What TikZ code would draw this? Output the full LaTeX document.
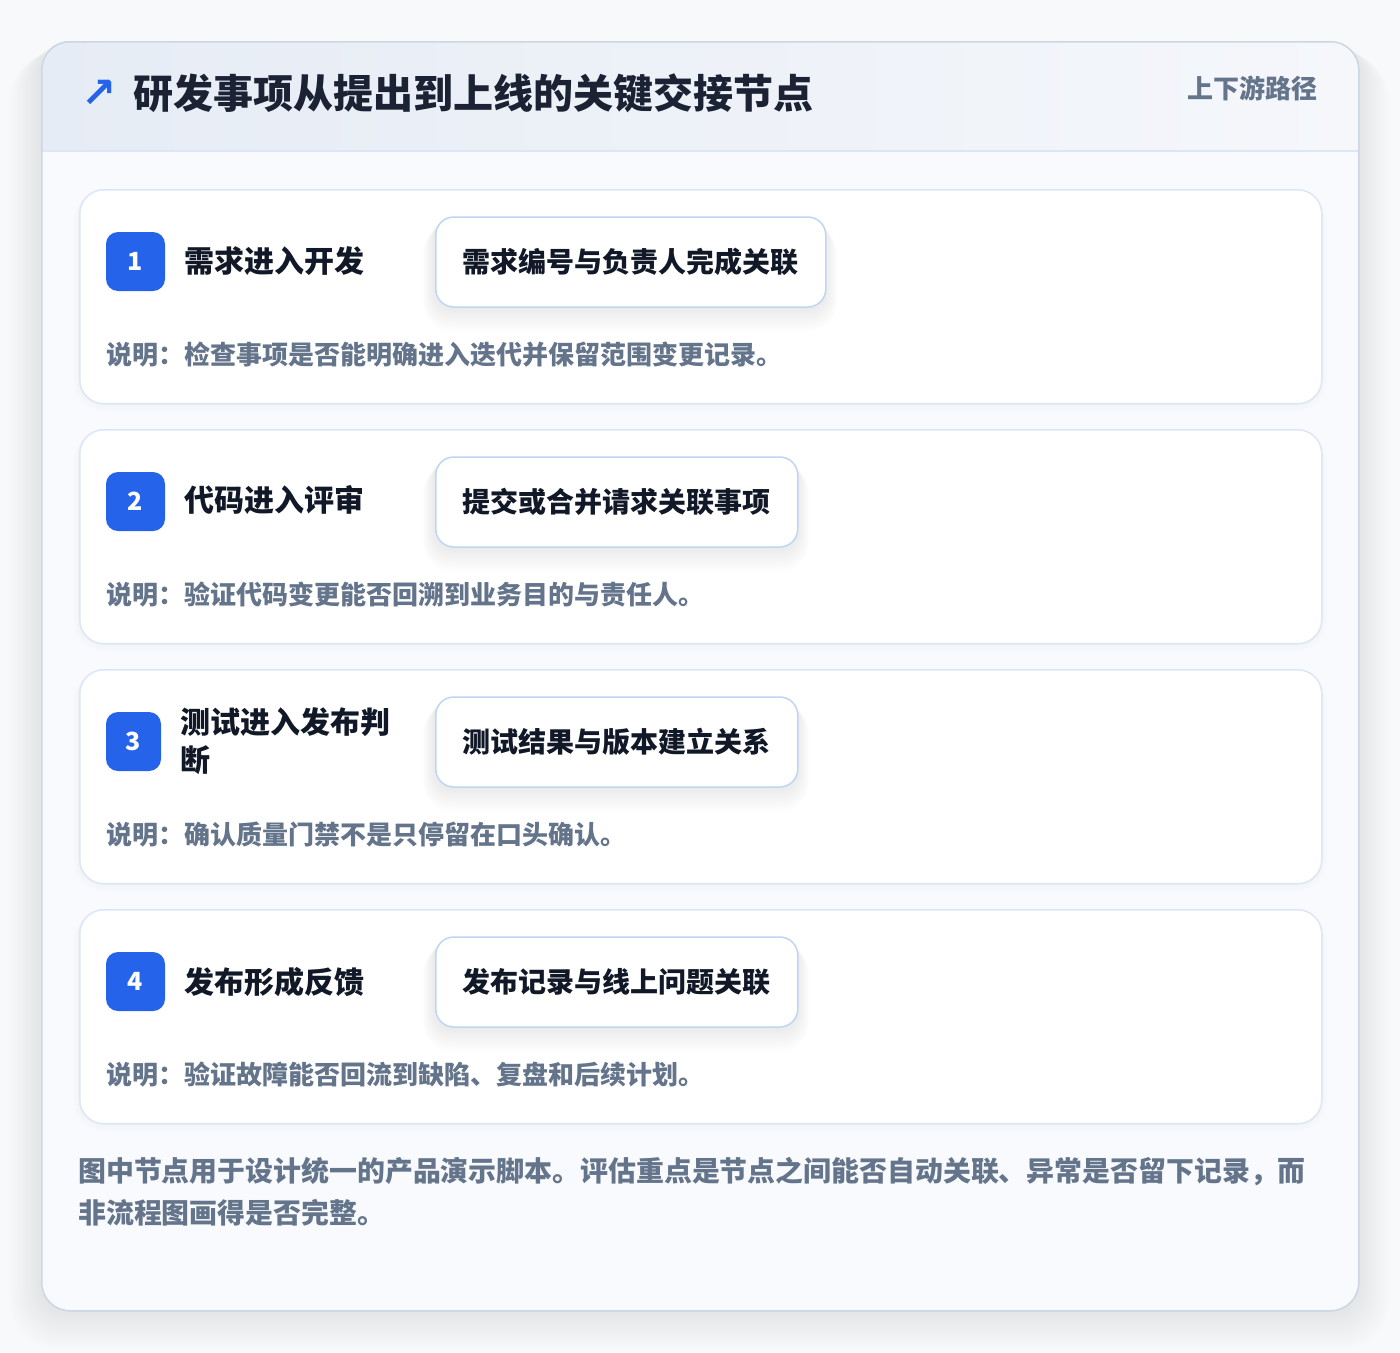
\documentclass[tikz,border=0pt]{standalone}
\usepackage{fontspec}
\newfontfamily\cjk{Noto Sans CJK SC}
\newfontfamily\symf{DejaVu Sans}
\definecolor{pagebg}{HTML}{F8F9FB}
\definecolor{bodybg}{HTML}{F8FAFD}
\definecolor{hdrL}{HTML}{E6ECF5}
\definecolor{hdrR}{HTML}{F5F7FB}
\definecolor{outerborder}{HTML}{CDD6E3}
\definecolor{hline}{HTML}{DCE6F4}
\definecolor{cardborder}{HTML}{DBE7F7}
\definecolor{boxborder}{HTML}{BFD6F3}
\definecolor{accent}{HTML}{2563EB}
\definecolor{titlec}{HTML}{1A2233}
\definecolor{darkc}{HTML}{111827}
\definecolor{grayc}{HTML}{64748B}
\tikzset{
  stepcard/.style={draw=cardborder, line width=1.5pt, fill=white, rounded corners=24pt},
  badge/.style={fill=accent, rounded corners=12pt, minimum height=59pt, text=white, inner sep=0pt,
    font=\cjk\bfseries\fontsize{25}{25}\selectfont},
  steplabel/.style={anchor=west, inner sep=0pt, text=darkc, align=left,
    font=\cjk\bfseries\fontsize{30}{38}\selectfont},
  linkbox/.style={draw=boxborder, line width=1.5pt, fill=white, rounded corners=18pt,
    minimum height=90pt, anchor=west, text=darkc, inner sep=0pt,
    font=\cjk\bfseries\fontsize{28}{34}\selectfont},
  notetext/.style={anchor=west, inner sep=0pt, text=grayc, font=\cjk\bfseries\fontsize{26}{30}\selectfont},
  foottext/.style={anchor=west, inner sep=0pt, text=grayc, font=\cjk\bfseries\fontsize{27.9}{34}\selectfont},
}
\usetikzlibrary{calc}
\begin{document}
\begin{tikzpicture}[x=1pt,y=-1pt]
\useasboundingbox (0,0) rectangle (1400,1352);
\fill[pagebg] (0,0) rectangle (1400,1352);
% outer shadow
\foreach \k in {1,...,20} {
  \fill[black, opacity=0.0045, rounded corners=28pt+\k*1pt]
    (41-\k*1.6, 41+\k*0.6) rectangle (1358+\k*1.6, 1310+\k*2.0);
}
% card
\fill[white, rounded corners=28pt] (41,41) rectangle (1358,1310);
\begin{scope}
  \clip[rounded corners=28pt] (41,41) rectangle (1358,1310);
  \fill[bodybg] (41,151) rectangle (1358,1310);
  \shade[left color=hdrL, right color=hdrR] (41,41) rectangle (1358,151);
\end{scope}
\coordinate (hl) at (41,151);
\coordinate (hr) at (1358,151);
\draw[hline, line width=1.5pt] (hl) -- (hr);
\node (card) [draw=outerborder, line width=1.5pt, rounded corners=28pt, anchor=north west,
  minimum width=1317pt, minimum height=1269pt, inner sep=0pt] at (41,41) {};

% header
\node (arrow) [text=accent, inner sep=0pt, font=\symf\bfseries\fontsize{42}{42}\selectfont] at (99,94) {↗};
\node (title) [anchor=west, inner sep=0pt, text=titlec, font=\cjk\bfseries\fontsize{40}{48}\selectfont]
  at (133,93) {研发事项从提出到上线的关键交接节点};
\node (tag) [anchor=east, inner sep=0pt, text=grayc, font=\cjk\bfseries\fontsize{26}{30}\selectfont]
  at (1318,88) {上下游路径};

% step card shadows
\foreach \t in {189,429,669,909} {
  \foreach \k in {1,...,6} {
    \fill[black, opacity=0.004, rounded corners=24pt+\k*1pt]
      (79-\k*1, \t+\k*0.5) rectangle (1321+\k*1, \t+214+\k*1.5);
  }
}
\node (c1) [stepcard, anchor=north west, minimum width=1242pt, minimum height=214pt] at (79,189) {};
\node (c2) [stepcard, anchor=north west, minimum width=1242pt, minimum height=214pt] at (79,429) {};
\node (c3) [stepcard, anchor=north west, minimum width=1242pt, minimum height=214pt] at (79,669) {};
\node (c4) [stepcard, anchor=north west, minimum width=1242pt, minimum height=214pt] at (79,909) {};

% link box shadows
\foreach \x/\w/\t in {435/390/217, 435/362/457, 435/362/697, 435/362/937} {
  \foreach \k in {1,...,10} {
    \fill[black, opacity=0.006, rounded corners=18pt+\k*1pt]
      (\x-\k*1.2, \t+\k*0.8) rectangle (\x+\w+\k*1.2, \t+90+\k*2.4);
  }
}

% card 1
\node (b1) [badge, minimum width=59pt] at (135.5,261.5) {1};
\node (l1) [steplabel] at (184,261) {需求进入开发};
\node (x1) [linkbox, minimum width=390pt] at (435,262) {需求编号与负责人完成关联};
\node (n1) [notetext] at (106,355) {说明：检查事项是否能明确进入迭代并保留范围变更记录。};

% card 2
\node (b2) [badge, minimum width=59pt] at (135.5,501.5) {2};
\node (l2) [steplabel] at (184,500) {代码进入评审};
\node (x2) [linkbox, minimum width=362pt] at (435,502) {提交或合并请求关联事项};
\node (n2) [notetext] at (106,595) {说明：验证代码变更能否回溯到业务目的与责任人。};

% card 3
\node (b3) [badge, minimum width=55pt] at (133.5,741.5) {3};
\node (l3) [steplabel] at (180,741) {测试进入发布判\\断};
\node (x3) [linkbox, minimum width=362pt] at (435,742) {测试结果与版本建立关系};
\node (n3) [notetext] at (106,835) {说明：确认质量门禁不是只停留在口头确认。};

% card 4
\node (b4) [badge, minimum width=59pt] at (135.5,981.5) {4};
\node (l4) [steplabel] at (184,982) {发布形成反馈};
\node (x4) [linkbox, minimum width=362pt] at (435,982) {发布记录与线上问题关联};
\node (n4) [notetext] at (106,1075) {说明：验证故障能否回流到缺陷、复盘和后续计划。};

% footer
\node (f1) [foottext] at (78,1171) {图中节点用于设计统一的产品演示脚本。评估重点是节点之间能否自动关联、异常是否留下记录，而};
\node (f2) [foottext] at (78,1213) {非流程图画得是否完整。};
\end{tikzpicture}
\end{document}
